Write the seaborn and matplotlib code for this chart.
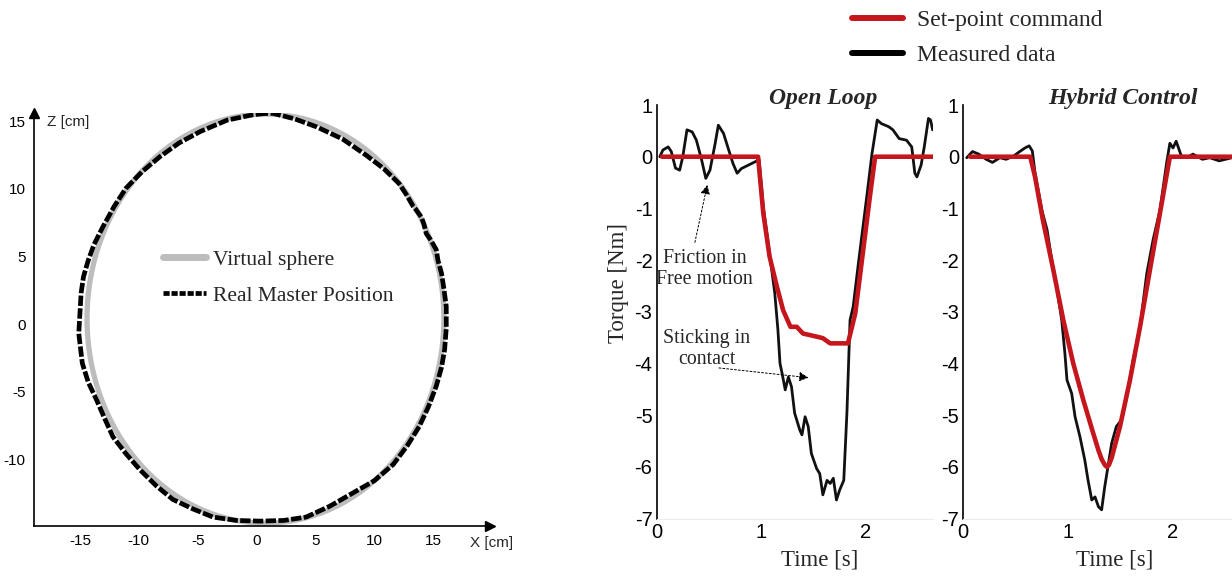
import matplotlib
matplotlib.use("Agg")
import matplotlib.pyplot as plt
import seaborn as sns
from matplotlib.patches import Ellipse
from matplotlib.lines import Line2D

sns.set_style("white")
plt.rcParams['font.family'] = ['Liberation Sans', 'DejaVu Sans']
plt.rcParams['axes.unicode_minus'] = False

# ---- left panel: master position on the virtual sphere (cm) ----
sphere_center = (0.75, 0.4)
sphere_rx, sphere_rz = 15.15, 15.15

master_x = [0.8, -0.3, -2.5, -4.8, -6.6, -8.2, -9.7, -11.1, -12.1, -13.05, -13.8, -14.3,
            -14.7, -14.9, -15.0, -15.1, -14.8, -14.3, -13.6, -12.9, -12.2, -11.1, -9.9,
            -8.5, -7.1, -5.4, -3.7, -1.7, 0.3, 2.3, 4.2, 6.2, 8.2, 10.0, 11.6, 12.8, 13.8,
            14.6, 15.25, 15.7, 15.96, 16.1, 16.1, 15.9, 15.7, 15.4, 15.25, 14.8, 14.4,
            14.2, 14.0, 13.5, 13.3, 12.7, 12.1, 10.8, 9.3, 7.3, 5.1, 3.2, 1.4, 0.8]
master_z = [15.6, 15.5, 15.1, 14.25, 13.4, 12.4, 11.3, 10.05, 8.7, 7.2, 5.9, 4.7,
            3.5, 2.3, 0.8, -0.7, -2.9, -4.3, -5.6, -7.0, -8.35, -9.6, -10.8,
            -12.0, -13.0, -13.7, -14.3, -14.55, -14.6, -14.55, -14.3, -13.5, -12.5, -11.6,
            -10.4, -9.0, -7.6, -6.1, -4.6, -3.2, -1.9, -0.3, 1.3, 2.6, 3.75, 4.7, 5.5,
            6.2, 6.7, 7.4, 7.9, 8.5, 8.7, 9.6, 10.4, 11.5, 12.5, 13.7, 14.6, 15.2, 15.6, 15.6]

# ---- right panels: torque [Nm] vs time [s] ----
ol_cmd_t = [0.05, 0.97, 1.02, 1.08, 1.15, 1.21, 1.28, 1.34, 1.40, 1.53, 1.59, 1.66, 1.83,
            1.90, 1.98, 2.04, 2.09, 2.64]
ol_cmd_y = [0, 0, -1.09, -1.93, -2.51, -2.97, -3.29, -3.29, -3.42, -3.48, -3.51, -3.61,
            -3.61, -3.03, -1.74, -0.77, 0, 0]

ol_meas_t = [0.03, 0.06, 0.11, 0.14, 0.18, 0.22, 0.25, 0.29, 0.34, 0.38, 0.43, 0.47, 0.51,
             0.56, 0.59, 0.64, 0.68, 0.73, 0.77, 0.81, 0.88, 0.94, 0.98, 1.02, 1.08, 1.13,
             1.16, 1.18, 1.20, 1.23, 1.26, 1.29, 1.32, 1.37, 1.39, 1.42, 1.45, 1.48, 1.53,
             1.56, 1.59, 1.63, 1.66, 1.69, 1.72, 1.75, 1.79, 1.82, 1.85, 1.88, 1.93, 2.01,
             2.06, 2.11, 2.15, 2.22, 2.26, 2.32, 2.39, 2.44, 2.47, 2.49, 2.53, 2.56, 2.60,
             2.62, 2.64]
ol_meas_y = [0, 0.13, 0.19, 0.10, -0.22, -0.26, 0, 0.52, 0.48, 0.32, -0.06, -0.42, -0.26,
             0.26, 0.61, 0.45, 0.19, -0.13, -0.32, -0.23, -0.16, -0.10, -0.06, -0.97, -1.87,
             -2.64, -3.35, -4.0, -4.19, -4.51, -4.26, -4.45, -4.96, -5.29, -5.38, -5.03,
             -5.22, -5.74, -6.03, -6.13, -6.54, -6.26, -6.32, -6.22, -6.64, -6.45, -6.26,
             -4.96, -3.16, -2.9, -2.06, -0.77, 0.06, 0.71, 0.64, 0.58, 0.52, 0.35, 0.32,
             0.19, -0.32, -0.39, -0.16, 0.19, 0.74, 0.71, 0.52]

hy_cmd_t = [0.067, 0.64, 0.686, 0.76, 0.86, 0.955, 1.05, 1.146, 1.24, 1.29, 1.32, 1.35,
            1.37, 1.39, 1.416, 1.495, 1.59, 1.686, 1.78, 1.876, 1.97, 2.56]
hy_cmd_y = [0, 0, -0.39, -1.22, -2.19, -3.16, -4.0, -4.71, -5.35, -5.68, -5.85, -5.96,
            -6.0, -5.96, -5.82, -5.22, -4.32, -3.29, -2.19, -1.09, 0, 0]

hy_meas_t = [0.035, 0.09, 0.15, 0.22, 0.28, 0.35, 0.41, 0.48, 0.54, 0.59, 0.63, 0.66, 0.686,
             0.75, 0.80, 0.845, 0.89, 0.94, 0.97, 0.99, 1.035, 1.067, 1.114, 1.16, 1.19,
             1.226, 1.257, 1.29, 1.32, 1.35, 1.38, 1.416, 1.46, 1.51, 1.56, 1.62, 1.686,
             1.75, 1.81, 1.876, 1.94, 1.97, 2.0, 2.03, 2.08, 2.13, 2.19, 2.28, 2.35, 2.44, 2.56]
hy_meas_y = [-0.02, 0.1, 0.05, -0.05, -0.11, -0.02, -0.05, 0.01, 0.1, 0.17, 0.21, 0.11, -0.32,
             -1.03, -1.41, -2.0, -2.51, -3.16, -3.8, -4.32, -4.58, -5.03, -5.42, -5.87, -6.25,
             -6.64, -6.58, -6.77, -6.83, -6.38, -6.0, -5.54, -5.22, -5.09, -4.64, -3.93, -3.29,
             -2.26, -1.61, -1.03, -0.11, 0.26, 0.17, 0.30, 0.01, -0.02, 0.05, -0.05, -0.02,
             -0.08, -0.02]

red = '#c4161c'
gray = '#bdbdbd'
serif = ['Liberation Serif', 'DejaVu Serif']

fig = plt.figure(figsize=(12.32, 5.77), dpi=100)
fig.patch.set_facecolor('white')

# ================= left panel =================
ax0 = fig.add_axes([0.0276, 0.0884, 0.370, 0.7158])
ax0.add_patch(Ellipse(sphere_center, 2 * sphere_rx, 2 * sphere_rz, fill=False,
                      edgecolor=gray, lw=3.8))
sns.lineplot(x=master_x, y=master_z, sort=False, estimator=None, ax=ax0,
             color='black', lw=3.4)
ax0.lines[-1].set_dashes((2.2, 0.5))
ax0.set_xlim(-18.9, 19.8)
ax0.set_ylim(-14.96, 15.63)
ax0.set_xticks([-15, -10, -5, 0, 5, 10, 15])
ax0.set_yticks([-10, -5, 0, 5, 10, 15])
sns.despine(ax=ax0)
for s in ['left', 'bottom']:
    ax0.spines[s].set_linewidth(1.2)
    ax0.spines[s].set_color('black')
ax0.tick_params(direction='in', length=4, width=1, labelsize=11, pad=6, colors='black')
ax0.plot(1, 0, '>k', ms=7, transform=ax0.transAxes, clip_on=False)
ax0.plot(0, 1, '^k', ms=7, transform=ax0.transAxes, clip_on=False)
ax0.text(0.0285, 0.978, 'Z [cm]', transform=ax0.transAxes, fontsize=11, va='center')
ax0.text(0.956, -0.041, 'X [cm]', transform=ax0.transAxes, fontsize=11, va='center')
ax0.legend(handles=[Line2D([], [], color=gray, lw=5),
                    Line2D([], [], color='black', lw=3.4, dashes=(1.3, 0.4))],
           labels=['Virtual sphere', 'Real Master Position'],
           loc='center left', bbox_to_anchor=(0.283, 0.601), frameon=False,
           prop={'family': serif, 'size': 15.5}, handlelength=2.0,
           handletextpad=0.3, labelspacing=0.75, borderpad=0, borderaxespad=0)

# ================= right panels =================
def torque_axes(rect, xmax):
    ax = fig.add_axes(rect)
    ax.set_xlim(0, xmax)
    ax.set_ylim(-7, 1)
    ax.set_xticks([0, 1, 2])
    ax.set_yticks(range(-7, 2))
    sns.despine(ax=ax)
    ax.spines['left'].set_color('black')
    ax.spines['left'].set_linewidth(1.2)
    ax.spines['bottom'].set_color('#ececec')
    ax.spines['bottom'].set_linewidth(0.8)
    ax.tick_params(direction='in', length=4, width=1, labelsize=14.5, pad=3, colors='black')
    return ax

ax1 = torque_axes([0.533, 0.1012, 0.224, 0.7168], 2.64)
sns.lineplot(x=ol_meas_t, y=ol_meas_y, sort=False, estimator=None, ax=ax1,
             color='#111111', lw=2.0)
sns.lineplot(x=ol_cmd_t, y=ol_cmd_y, sort=False, estimator=None, ax=ax1,
             color=red, lw=3.3)
ax1.text(0.603, 1.015, 'Open Loop', transform=ax1.transAxes, ha='center', va='center',
         fontsize=17, fontweight='bold', fontstyle='italic', family=serif)
ax1.text(0.592, -0.100, 'Time [s]', transform=ax1.transAxes, ha='center', va='center',
         fontsize=16.5, family=serif)
ax1.text(-0.140, 0.569, 'Torque [Nm]', transform=ax1.transAxes, ha='center', va='center',
         rotation=90, fontsize=16.5, family=serif)

# annotations
ax1.text(0.46, -2.17, 'Friction in\nFree motion', ha='center', va='center',
         fontsize=14.3, family=serif, linespacing=1.1)
ax1.annotate('', xy=(0.49, -0.49), xytext=(0.36, -1.71),
             arrowprops=dict(arrowstyle='-|>', ls=(0, (2, 2)), lw=0.7,
                             color='black', mutation_scale=14))
ax1.text(0.48, -3.72, 'Sticking in\ncontact', ha='center', va='center',
         fontsize=14.3, family=serif, linespacing=1.1)
ax1.annotate('', xy=(1.48, -4.28), xytext=(0.57, -4.08),
             arrowprops=dict(arrowstyle='-|>', ls=(0, (2, 2)), lw=0.7,
                             color='black', mutation_scale=14))

ax2 = torque_axes([0.7817, 0.1012, 0.2183, 0.7168], 2.562)
sns.lineplot(x=hy_meas_t, y=hy_meas_y, sort=False, estimator=None, ax=ax2,
             color='#111111', lw=2.0)
sns.lineplot(x=hy_cmd_t, y=hy_cmd_y, sort=False, estimator=None, ax=ax2,
             color=red, lw=3.3)
ax2.text(0.595, 1.015, 'Hybrid Control', transform=ax2.transAxes, ha='center',
         va='center', fontsize=17, fontweight='bold', fontstyle='italic', family=serif)
ax2.text(0.565, -0.100, 'Time [s]', transform=ax2.transAxes, ha='center', va='center',
         fontsize=16.5, family=serif)

fig.legend(handles=[Line2D([], [], color=red, lw=4.3),
                    Line2D([], [], color='black', lw=4.3)],
           labels=['Set-point command', 'Measured data'],
           loc='upper left', bbox_to_anchor=(851.7 / 1232, 0.983), frameon=False,
           prop={'family': serif, 'size': 17}, handlelength=2.19,
           handletextpad=0.58, labelspacing=0.55, borderpad=0, borderaxespad=0)

fig.savefig('out.png', dpi=100, facecolor='white')
